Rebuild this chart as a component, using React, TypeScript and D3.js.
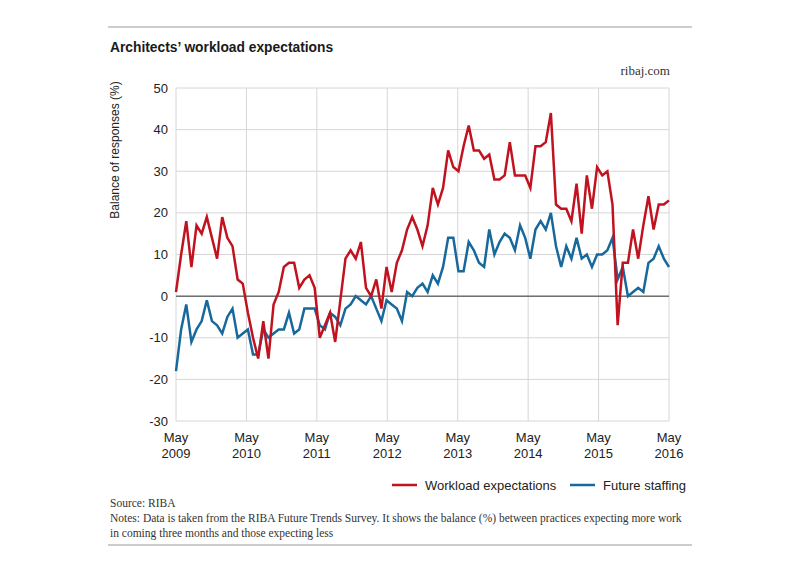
import React from "react";
import * as d3 from "d3";

const workload: number[] = [
  1, 10, 18, 7, 17, 15, 19, 14, 9, 19, 14, 12, 4, 3, -4, -10, -15, -6, -15, -2,
  1, 7, 8, 8, 2, 4, 5, 2, -10, -7, -4, -11, -1, 9, 11, 9, 13, 2, 0, 4,
  -3, 7, 1, 8, 11, 16, 19, 16, 12, 17, 26, 22, 26, 35, 31, 30, 36, 41, 35, 35,
  33, 34, 28, 28, 29, 37, 29, 29, 29, 26, 36, 36, 37, 44, 22, 21, 21, 18, 27, 15,
  29, 21, 31, 29, 30, 22, -7, 8, 8, 16, 9, 17, 24, 16, 22, 22, 23,
];

const staffing: number[] = [
  -18, -8, -2, -11, -8, -6, -1, -6, -7, -9, -5, -3, -10, -9, -8, -14, -14, -8, -10, -9,
  -8, -8, -4, -9, -8, -3, -3, -3, -7, -8, -4, -5, -7, -3, -2, 0, -1, -2, 0, -3,
  -6, -1, -2, -3, -6, 1, 0, 2, 3, 1, 5, 3, 7, 14, 14, 6, 6, 13, 11, 8,
  7, 16, 10, 13, 15, 14, 11, 17, 14, 9, 16, 18, 16, 20, 12, 7, 12, 9, 14, 9,
  10, 7, 10, 10, 11, 14, 4, 7, 0, 1, 2, 1, 8, 9, 12, 9, 7,
];

const tickMonths: string[] = ["May", "May", "May", "May", "May", "May", "May", "May"];
const tickYears: string[] = ["2009", "2010", "2011", "2012", "2013", "2014", "2015", "2016"];
const yTicks: number[] = [50, 40, 30, 20, 10, 0, -10, -20, -30];

const seriesNames: string[] = ["Workload expectations", "Future staffing"];

const RED = "#c1121f";
const BLUE = "#17699c";
const SANS = "'Liberation Sans', Arial, sans-serif";
const SERIF = "'Liberation Serif', 'Times New Roman', serif";

export default function App() {
  const W = 800;
  const H = 571;
  const left = 176;
  const right = 669;
  const top = 88;
  const bottom = 421;

  const x = d3.scaleLinear().domain([0, workload.length - 1]).range([left, right]);
  const xt = d3.scalePoint<string>().domain(tickYears).range([left, right]);
  const y = d3.scaleLinear().domain([-30, 50]).range([bottom, top]);

  const line = d3
    .line<number>()
    .x((_, i) => x(i))
    .y((d) => y(d))
    .curve(d3.curveLinear);

  return (
    <svg
      width={W}
      height={H}
      viewBox={`0 0 ${W} ${H}`}
      style={{ position: "absolute", left: 0, top: 0, display: "block", background: "#fff" }}
    >
      <rect x={0} y={0} width={W} height={H} fill="#fff" />
      <line x1={108} x2={692} y1={27} y2={27} stroke="#9a9a9a" strokeWidth={1.2} />
      <line x1={108} x2={692} y1={545} y2={545} stroke="#9a9a9a" strokeWidth={1.2} />

      <text x={110} y={52} fontFamily={SANS} fontWeight="bold" fontSize={13.8} fill="#1a1a1a">
        Architects’ workload expectations
      </text>
      <text x={670} y={75} fontFamily={SERIF} fontSize={13} fill="#333" textAnchor="end">
        ribaj.com
      </text>

      {yTicks.map((t) => (
        <line
          key={"h" + t}
          x1={left}
          x2={right}
          y1={y(t)}
          y2={y(t)}
          stroke="#d6d6d6"
          strokeWidth={1}
        />
      ))}
      {tickYears.map((t) => (
        <line
          key={"v" + t}
          x1={xt(t)}
          x2={xt(t)}
          y1={top}
          y2={bottom}
          stroke="#d6d6d6"
          strokeWidth={1}
        />
      ))}
      <line x1={left} x2={right} y1={y(0)} y2={y(0)} stroke="#707070" strokeWidth={1.5} />

      {yTicks.map((t) => (
        <text
          key={"yl" + t}
          x={168}
          y={y(t)}
          dy="0.35em"
          textAnchor="end"
          fontFamily={SANS}
          fontSize={13}
          fill="#222"
        >
          {t}
        </text>
      ))}
      <text
        transform={`translate(119,${150}) rotate(-90)`}
        textAnchor="middle"
        fontFamily={SANS}
        fontSize={12}
        fill="#222"
      >
        Balance of responses (%)
      </text>

      {tickYears.map((t, i) => (
        <g key={"xl" + t}>
          <text x={xt(t)} y={442} textAnchor="middle" fontFamily={SANS} fontSize={13} fill="#222">
            {tickMonths[i]}
          </text>
          <text x={xt(t)} y={458} textAnchor="middle" fontFamily={SANS} fontSize={13} fill="#222">
            {t}
          </text>
        </g>
      ))}

      <path d={line(staffing) || ""} fill="none" stroke={BLUE} strokeWidth={2.5} strokeLinejoin="miter" />
      <path d={line(workload) || ""} fill="none" stroke={RED} strokeWidth={2.5} strokeLinejoin="miter" />

      <line x1={392} x2={417} y1={485} y2={485} stroke={RED} strokeWidth={2.5} />
      <text x={425} y={490} fontFamily={SANS} fontSize={13} fill="#222">
        {seriesNames[0]}
      </text>
      <line x1={570} x2={595} y1={485} y2={485} stroke={BLUE} strokeWidth={2.5} />
      <text x={603} y={490} fontFamily={SANS} fontSize={13} fill="#222">
        {seriesNames[1]}
      </text>

      <text x={110} y={507} fontFamily={SERIF} fontSize={11.5} fill="#333">
        Source: RIBA
      </text>
      <text x={110} y={522} fontFamily={SERIF} fontSize={11.5} fill="#333">
        Notes: Data is taken from the RIBA Future Trends Survey. It shows the balance (%) between practices expecting more work
      </text>
      <text x={110} y={537} fontFamily={SERIF} fontSize={11.5} fill="#333">
        in coming three months and those expecting less
      </text>
    </svg>
  );
}
